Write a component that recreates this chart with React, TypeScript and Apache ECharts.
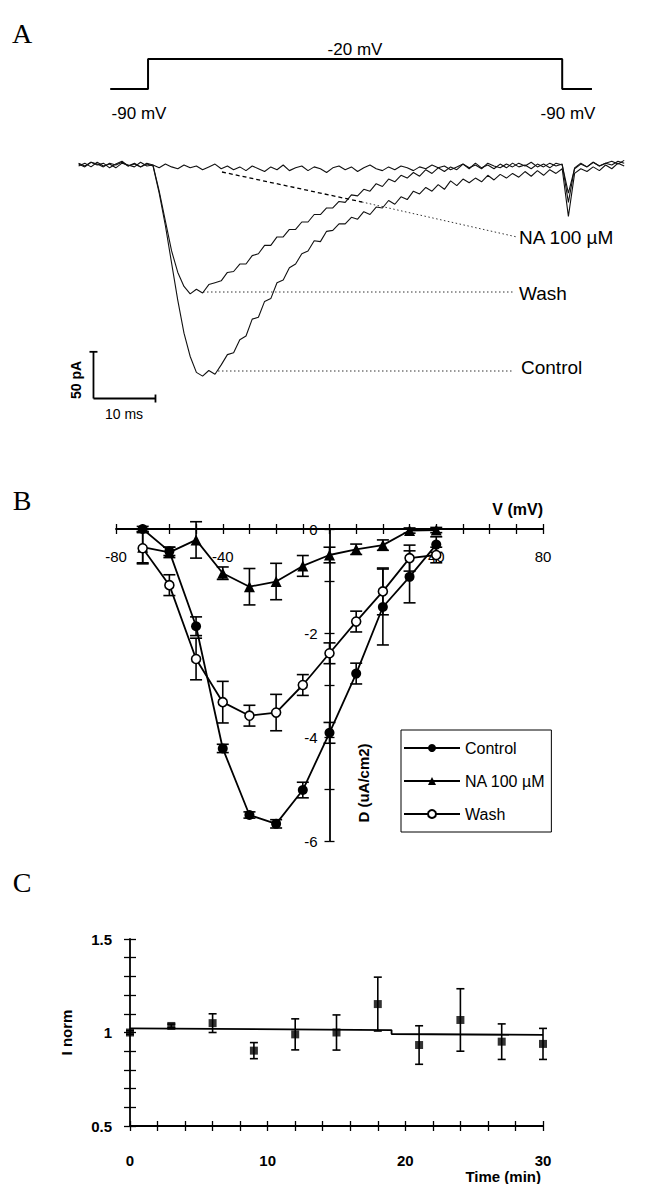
import React, { useEffect, useRef } from "react";
import * as echarts from "echarts";

// ---- Panel A: voltage protocol (ms, mV)
const protocolTime = [8.1, 14.2, 14.2, 81, 81, 85.8];
const protocolVoltage = [-90, -90, -20, -20, -90, -90];

// ---- Panel A: current traces (pA), one sample per ms starting at traceStartMs
const traceStartMs = 3;
const controlTrace = [
  1, -2, 3, 0, 2, -3, 1, 4, -1, 2, -2, 1, -1,
  -30, -65, -105, -145, -180, -205, -222, -226, -220, -224,
  -214, -203, -201, -187, -183, -165, -163, -146, -143, -126,
  -123, -110, -106, -95, -92, -81, -82, -71, -70, -63,
  -63, -56, -58, -50, -53, -45, -46, -38, -42, -34,
  -37, -28, -31, -24, -28, -21, -26, -17, -22, -15,
  -19, -14, -18, -11, -16, -10, -14, -9, -13, -7,
  -12, -6, -11, -5, -9, -4, -55, -9, -4, -7,
  -2, -6, 0, -4, 2, -1,
];
const washTrace = [
  -1, 2, -2, 3, -1, 1, -3, 2, 0, -2, 3, -1, 0,
  -28, -60, -92, -115, -130, -138, -133, -137, -128, -126,
  -124, -115, -114, -106, -106, -97, -95, -86, -86, -77,
  -77, -69, -69, -61, -61, -53, -53, -46, -46, -39,
  -40, -32, -33, -26, -28, -20, -23, -15, -18, -11,
  -14, -8, -12, -5, -9, -3, -7, -2, -5, 1,
  -4, 2, -3, 0, -4, 1, -3, 2, -2, 0,
  -4, 1, -2, 2, -1, 1, -40, -3, 2, -2,
  3, -1, 2, 0, 4, 2,
];
const naTrace = [
  2, -1, 3, 1, -2, 2, 0, 3, -1, 1, -2, 2, 0,
  -3, 1, -2, -4, 0, -3, -1, -5, -2, 1,
  -4, -1, -5, -2, -6, -1, -4, -7, -2, -5,
  0, -6, -3, -1, -6, -2, -4, -8, -3, -1,
  -5, -2, -7, -3, 0, -4, -6, -2, -5, -1,
  -3, -6, -2, -4, 0, -3, -1, -5, -2, 1,
  -3, 0, -4, 2, -1, -3, 1, -2, 2, -1,
  3, -2, 1, -3, 2, 0, -30, -4, 1, -2,
  3, -1, 2, 4, 1, 5,
];

// ---- Panel B: current density vs voltage
const ivVoltage = [-70, -60, -50, -40, -30, -20, -10, 0, 10, 20, 30, 40];
const controlMean = [0, -0.43, -1.87, -4.22, -5.5, -5.67, -5.02, -3.92, -2.78, -1.5, -0.92, -0.3];
const controlSem = [0.05, 0.08, 0.18, 0.08, 0.06, 0.08, 0.15, 0.2, 0.2, 0.73, 0.5, 0.15];
const naMean = [-0.35, -0.45, -0.21, -0.85, -1.11, -1.01, -0.71, -0.5, -0.39, -0.31, -0.03, -0.02];
const naSem = [0.3, 0.1, 0.35, 0.12, 0.35, 0.35, 0.2, 0.15, 0.1, 0.1, 0.05, 0.05];
const washMean = [-0.37, -1.08, -2.5, -3.33, -3.59, -3.53, -3.0, -2.39, -1.78, -1.2, -0.56, -0.5];
const washSem = [0.3, 0.2, 0.4, 0.4, 0.2, 0.35, 0.2, 0.2, 0.2, 0.45, 0.25, 0.15];

// ---- Panel C: normalised current over time
const timeMin = [0, 3, 6, 9, 12, 15, 18, 21, 24, 27, 30];
const inorm = [1.0, 1.035, 1.05, 0.903, 0.99, 1.0, 1.152, 0.933, 1.067, 0.951, 0.939];
const inormSem = [0.01, 0.01, 0.05, 0.043, 0.083, 0.094, 0.144, 0.103, 0.167, 0.095, 0.083];
const fitTime = [0, 19, 19, 30];
const fitValue = [1.022, 1.013, 0.992, 0.987];

const SANS = '"Liberation Sans", Arial, sans-serif';
const SERIF = '"Liberation Serif", "Times New Roman", serif';

const toPairs = (xs: number[], ys: number[]) => xs.map((x, i) => [x, ys[i]]);
const tracePairs = (ys: number[]) => ys.map((y, i) => [traceStartMs + i, y]);

function errorBars(name: string, xs: number[], means: number[], errs: number[], axis: number, cap: number) {
  return {
    type: "custom",
    name,
    xAxisIndex: axis,
    yAxisIndex: axis,
    clip: false,
    silent: true,
    z: 1,
    data: xs.map((x, i) => [x, means[i] - errs[i], means[i] + errs[i]]),
    renderItem: (_p: any, api: any) => {
      const lo = api.coord([api.value(0), api.value(1)]);
      const hi = api.coord([api.value(0), api.value(2)]);
      const h = cap / 2;
      const st = { stroke: "#000", lineWidth: 1.6 };
      return {
        type: "group",
        children: [
          { type: "line", shape: { x1: lo[0], y1: lo[1], x2: hi[0], y2: hi[1] }, style: st },
          { type: "line", shape: { x1: lo[0] - h, y1: lo[1], x2: lo[0] + h, y2: lo[1] }, style: st },
          { type: "line", shape: { x1: hi[0] - h, y1: hi[1], x2: hi[0] + h, y2: hi[1] }, style: st },
        ],
      };
    },
  };
}

function hiddenAxis(grid: number, min: number, max: number) {
  return { type: "value", gridIndex: grid, min, max, show: false };
}

// panel B grid spans 116..543 px for -80..80 mV; the current axis sits at 0 mV
const B_LEFT = 116;
const B_WIDTH = 427;
const B_AXIS_OFFSET = -(B_WIDTH / 2);

export default function App() {
  const ref = useRef<HTMLDivElement>(null);

  useEffect(() => {
    if (!ref.current) return;
    const chart = echarts.init(ref.current, undefined, { renderer: "svg" });

    const lineBlack = { color: "#000", width: 1.8 };
    const tickStyle = { color: "#000", width: 1.3 };

    const option: any = {
      animation: false,
      backgroundColor: "#fff",
      textStyle: { fontFamily: SANS, color: "#000" },
      grid: [
        { left: 60, top: 43.6, width: 589, height: 373.6 },
        { left: 60, top: 54.7, width: 589, height: 38.57 },
        { left: B_LEFT, top: 529, width: B_WIDTH, height: 312 },
        { left: 130, top: 939, width: 413, height: 187 },
      ],
      xAxis: [
        hiddenAxis(0, 0, 95),
        hiddenAxis(1, 0, 95),
        {
          type: "value", gridIndex: 2, min: -80, max: 80, interval: 10, position: "top",
          axisLine: { onZero: false, lineStyle: lineBlack },
          axisTick: { length: 5, lineStyle: tickStyle },
          splitLine: { show: false },
          axisLabel: {
            inside: true, interval: 0, margin: 20, fontSize: 15, color: "#000", fontFamily: SANS,
            formatter: (v: number) => (v === 0 || v % 40 !== 0 ? "" : String(v)),
          },
          name: "V (mV)", nameLocation: "end", nameGap: 0,
          nameTextStyle: { align: "right", verticalAlign: "bottom", padding: [0, 0, 12, 0], fontSize: 16, fontWeight: "bold", color: "#000", fontFamily: SANS },
        },
        {
          type: "value", gridIndex: 2, min: -80, max: 80, interval: 10, position: "top",
          axisLine: { show: false, onZero: false },
          axisTick: { inside: true, length: 5, lineStyle: tickStyle },
          axisLabel: { show: false }, splitLine: { show: false },
        },
        {
          type: "value", gridIndex: 3, min: 0, max: 30, interval: 2, position: "bottom",
          axisLine: { onZero: false, lineStyle: lineBlack },
          axisTick: { length: 5, lineStyle: tickStyle },
          splitLine: { show: false },
          axisLabel: {
            interval: 0, margin: 27, fontSize: 15, fontWeight: "bold", color: "#000", fontFamily: SANS,
            formatter: (v: number) => (v % 10 === 0 ? String(v) : ""),
          },
        },
        {
          type: "value", gridIndex: 3, min: 0, max: 30, interval: 2, position: "bottom",
          axisLine: { show: false, onZero: false },
          axisTick: { inside: true, length: 5, lineStyle: tickStyle },
          axisLabel: { show: false }, splitLine: { show: false },
        },
      ],
      yAxis: [
        hiddenAxis(0, -270, 130),
        hiddenAxis(1, -100, -10),
        {
          type: "value", gridIndex: 2, min: -6, max: 0, interval: 1, position: "left", offset: B_AXIS_OFFSET,
          axisLine: { onZero: false, lineStyle: lineBlack },
          axisTick: { length: 5, lineStyle: tickStyle },
          splitLine: { show: false },
          axisLabel: {
            margin: 12, fontSize: 15, color: "#000", fontFamily: SANS,
            formatter: (v: number) => (Math.round(v) % 2 === 0 ? String(Math.round(v)) : ""),
          },
        },
        {
          type: "value", gridIndex: 2, min: -6, max: 0, interval: 1, position: "left", offset: B_AXIS_OFFSET,
          axisLine: { show: false, onZero: false },
          axisTick: { inside: true, length: 5, lineStyle: tickStyle },
          axisLabel: { show: false }, splitLine: { show: false },
        },
        {
          type: "value", gridIndex: 3, min: 0.5, max: 1.5, interval: 0.1, position: "left",
          axisLine: { onZero: false, lineStyle: lineBlack },
          axisTick: { length: 6, lineStyle: tickStyle },
          splitLine: { show: false },
          axisLabel: {
            margin: 18, fontSize: 15, fontWeight: "bold", color: "#000", fontFamily: SANS,
            formatter: (v: number) =>
              Math.abs(v - 0.5) < 1e-6 ? "0.5" : Math.abs(v - 1) < 1e-6 ? "1" : Math.abs(v - 1.5) < 1e-6 ? "1.5" : "",
          },
          name: "I norm", nameLocation: "middle", nameGap: 56, nameRotate: 90,
          nameTextStyle: { fontSize: 15, fontWeight: "bold", color: "#000", fontFamily: SANS },
        },
        {
          type: "value", gridIndex: 3, min: 0.5, max: 1.5, interval: 0.1, position: "left",
          axisLine: { show: false, onZero: false },
          axisTick: { inside: true, length: 6, lineStyle: tickStyle },
          axisLabel: { show: false }, splitLine: { show: false },
        },
      ],
      legend: {
        data: ["Control", "NA 100 µM", "Wash"],
        orient: "vertical",
        left: 401,
        top: 730,
        padding: [10, 6, 10, 2],
        itemWidth: 56,
        itemHeight: 10,
        itemGap: 17,
        borderColor: "#000",
        borderWidth: 1,
        selectedMode: false,
        textStyle: { fontSize: 16, color: "#000", fontFamily: SANS },
      },
      series: [
        // Panel A traces
        { type: "line", name: "trace-na", xAxisIndex: 0, yAxisIndex: 0, data: tracePairs(naTrace), showSymbol: false, lineStyle: { color: "#111", width: 1.1 }, z: 3 },
        { type: "line", name: "trace-wash", xAxisIndex: 0, yAxisIndex: 0, data: tracePairs(washTrace), showSymbol: false, lineStyle: { color: "#111", width: 1.1 }, z: 3 },
        { type: "line", name: "trace-control", xAxisIndex: 0, yAxisIndex: 0, data: tracePairs(controlTrace), showSymbol: false, lineStyle: { color: "#111", width: 1.1 }, z: 3 },
        // Panel A scale bar: 10 ms x 50 pA
        {
          type: "custom", name: "scalebar", xAxisIndex: 0, yAxisIndex: 0, clip: false, silent: true,
          data: [[5.4, -250, 10, 50]],
          renderItem: (_p: any, api: any) => {
            const x0 = api.value(0), y0 = api.value(1);
            const origin = api.coord([x0, y0]);
            const right = api.coord([x0 + api.value(2), y0]);
            const top = api.coord([x0, y0 + api.value(3)]);
            const st = { stroke: "#000", lineWidth: 1.8 };
            return {
              type: "group",
              children: [
                { type: "line", shape: { x1: origin[0], y1: origin[1], x2: top[0], y2: top[1] }, style: st },
                { type: "line", shape: { x1: origin[0], y1: origin[1], x2: right[0], y2: right[1] }, style: st },
                { type: "line", shape: { x1: top[0] - 4, y1: top[1], x2: top[0] + 4, y2: top[1] }, style: st },
                { type: "line", shape: { x1: right[0], y1: right[1] - 4, x2: right[0], y2: right[1] + 4 }, style: st },
              ],
            };
          },
        },
        // Panel A protocol
        { type: "line", name: "protocol", xAxisIndex: 1, yAxisIndex: 1, data: toPairs(protocolTime, protocolVoltage), showSymbol: false, lineStyle: { color: "#000", width: 2 } },

        // Panel B
        errorBars("Control SEM", ivVoltage, controlMean, controlSem, 2, 12),
        errorBars("NA SEM", ivVoltage, naMean, naSem, 2, 12),
        errorBars("Wash SEM", ivVoltage, washMean, washSem, 2, 12),
        {
          type: "line", name: "Control", xAxisIndex: 2, yAxisIndex: 2, data: toPairs(ivVoltage, controlMean),
          symbol: "circle", symbolSize: 10, itemStyle: { color: "#000" }, lineStyle: { color: "#000", width: 1.8 }, z: 4, clip: false,
        },
        {
          type: "line", name: "NA 100 µM", xAxisIndex: 2, yAxisIndex: 2, data: toPairs(ivVoltage, naMean),
          symbol: "triangle", symbolSize: 11, itemStyle: { color: "#000" }, lineStyle: { color: "#000", width: 1.8 }, z: 4, clip: false,
        },
        {
          type: "line", name: "Wash", xAxisIndex: 2, yAxisIndex: 2, data: toPairs(ivVoltage, washMean),
          symbol: "circle", symbolSize: 9, itemStyle: { color: "#fff", borderColor: "#000", borderWidth: 1.6 },
          lineStyle: { color: "#000", width: 1.8 }, z: 5, clip: false,
        },

        // Panel C
        errorBars("I norm SEM", timeMin, inorm, inormSem, 4, 8),
        {
          type: "line", name: "fit", xAxisIndex: 4, yAxisIndex: 4, data: toPairs(fitTime, fitValue),
          showSymbol: false, lineStyle: { color: "#000", width: 1.8 },
        },
        {
          type: "scatter", name: "I norm", xAxisIndex: 4, yAxisIndex: 4, data: toPairs(timeMin, inorm),
          symbol: "rect", symbolSize: 8, itemStyle: { color: "#000" }, z: 4,
        },
      ],
      graphic: [
        { type: "text", x: 22, y: 33, style: { text: "A", font: `28px ${SERIF}`, fill: "#000", align: "center", verticalAlign: "middle" } },
        { type: "text", x: 22, y: 500, style: { text: "B", font: `28px ${SERIF}`, fill: "#000", align: "center", verticalAlign: "middle" } },
        { type: "text", x: 22, y: 882, style: { text: "C", font: `28px ${SERIF}`, fill: "#000", align: "center", verticalAlign: "middle" } },

        { type: "text", x: 355, y: 49, style: { text: "-20 mV", font: `17px ${SANS}`, fill: "#000", align: "center", verticalAlign: "middle" } },
        { type: "text", x: 139, y: 113, style: { text: "-90 mV", font: `17px ${SANS}`, fill: "#000", align: "center", verticalAlign: "middle" } },
        { type: "text", x: 568, y: 113, style: { text: "-90 mV", font: `17px ${SANS}`, fill: "#000", align: "center", verticalAlign: "middle" } },

        // leader lines to trace labels
        { type: "polyline", shape: { points: [[222, 172], [362, 202]] }, style: { stroke: "#000", lineWidth: 1.3, lineDash: [4, 3], fill: null } },
        { type: "polyline", shape: { points: [[362, 202], [517, 237]] }, style: { stroke: "#333", lineWidth: 1, lineDash: [1.5, 2.5], fill: null } },
        { type: "line", shape: { x1: 203, y1: 292, x2: 515, y2: 292 }, style: { stroke: "#333", lineWidth: 1, lineDash: [1.5, 2.5] } },
        { type: "line", shape: { x1: 218, y1: 371, x2: 513, y2: 371 }, style: { stroke: "#333", lineWidth: 1, lineDash: [1.5, 2.5] } },
        { type: "text", x: 519, y: 237, style: { text: "NA 100 µM", font: `19px ${SANS}`, fill: "#000", align: "left", verticalAlign: "middle" } },
        { type: "text", x: 519, y: 293, style: { text: "Wash", font: `19px ${SANS}`, fill: "#000", align: "left", verticalAlign: "middle" } },
        { type: "text", x: 521, y: 367, style: { text: "Control", font: `19px ${SANS}`, fill: "#000", align: "left", verticalAlign: "middle" } },

        // scale bar labels
        { type: "text", x: 76, y: 380, rotation: Math.PI / 2, style: { text: "50 pA", font: `bold 14px ${SANS}`, fill: "#000", align: "center", verticalAlign: "middle" } },
        { type: "text", x: 124, y: 414, style: { text: "10 ms", font: `14px ${SANS}`, fill: "#000", align: "center", verticalAlign: "middle" } },

        // panel B y-axis title and panel C x-axis title
        { type: "text", x: 363, y: 783, rotation: Math.PI / 2, style: { text: "D (uA/cm2)", font: `bold 15px ${SANS}`, fill: "#000", align: "center", verticalAlign: "middle" } },
        { type: "text", x: 541, y: 1176, style: { text: "Time (min)", font: `bold 15px ${SANS}`, fill: "#000", align: "right", verticalAlign: "middle" } },
      ],
    };

    chart.setOption(option);
    return () => chart.dispose();
  }, []);

  return (
    <div
      ref={ref}
      style={{ position: "absolute", left: 0, top: 0, width: 649, height: 1184, background: "#fff" }}
    />
  );
}
